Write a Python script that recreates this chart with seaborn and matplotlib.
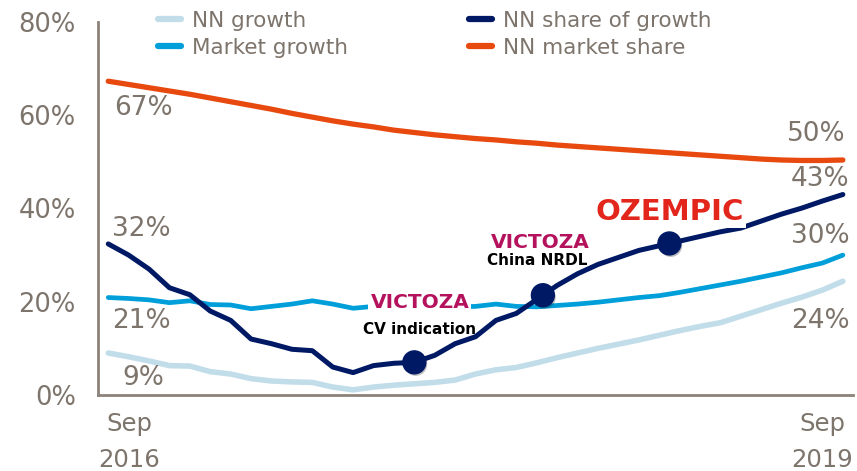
import numpy as np
import pandas as pd
import matplotlib
matplotlib.use("Agg")
import matplotlib.pyplot as plt
import matplotlib.patheffects as pe
from matplotlib.lines import Line2D
import seaborn as sns

# ---------------- data ----------------
months = list(range(37))  # Sep 2016 .. Sep 2019
nn_growth = [9.0, 8.2, 7.3, 6.3, 6.2, 5.0, 4.5, 3.5, 3.0, 2.8, 2.7, 1.7, 1.1, 1.7, 2.1, 2.4,
             2.7, 3.2, 4.5, 5.4, 5.9, 6.9, 8.0, 9.0, 10.0, 10.9, 11.8, 12.8, 13.8, 14.7, 15.5,
             16.9, 18.3, 19.7, 21.0, 22.5, 24.4]
market_growth = [20.9, 20.7, 20.4, 19.8, 20.2, 19.4, 19.3, 18.5, 19.0, 19.5, 20.2, 19.5, 18.6,
                 19.0, 19.2, 19.0, 19.1, 18.9, 19.0, 19.5, 19.0, 18.9, 19.2, 19.5, 19.9, 20.4,
                 20.9, 21.3, 22.0, 22.8, 23.6, 24.4, 25.3, 26.2, 27.3, 28.3, 30.0]
nn_share_of_growth = [32.4, 30.0, 27.0, 23.0, 21.5, 18.0, 16.0, 12.0, 11.0, 9.8, 9.5, 6.0, 4.8,
                      6.3, 6.8, 7.0, 8.5, 11.0, 12.5, 16.0, 17.5, 20.5, 23.5, 26.0, 28.0, 29.5,
                      31.0, 32.0, 33.0, 34.0, 35.0, 35.8, 37.3, 38.8, 40.1, 41.6, 43.0]
nn_market_share = [67.3, 66.6, 65.9, 65.2, 64.5, 63.7, 62.9, 62.1, 61.3, 60.4, 59.6, 58.8, 58.1,
                   57.5, 56.8, 56.3, 55.8, 55.4, 55.0, 54.7, 54.3, 54.0, 53.6, 53.3, 53.0, 52.7,
                   52.4, 52.1, 51.8, 51.5, 51.2, 50.9, 50.6, 50.4, 50.3, 50.3, 50.4]

series_names = ["NN growth", "Market growth", "NN share of growth", "NN market share"]
x_labels = ["Sep\n2016", "Sep\n2019"]
y_ticks = [0, 20, 40, 60, 80]
event_months = [15, 21.3, 27.5]
event_brands = ["VICTOZA", "VICTOZA", "OZEMPIC"]
event_notes = ["CV indication", "China NRDL", ""]

# ---------------- style ----------------
colors = {"NN growth": "#C2DDEA", "Market growth": "#009FDA",
          "NN share of growth": "#001965", "NN market share": "#E8490F"}
widths = {"NN growth": 4.0, "Market growth": 3.4, "NN share of growth": 3.6, "NN market share": 3.8}
grey = "#7D746C"

sns.set_style("white")
plt.rcParams["font.family"] = ["DejaVu Sans"]

df = pd.DataFrame({
    "month": months * 4,
    "value": nn_growth + market_growth + nn_share_of_growth + nn_market_share,
    "series": sum([[s] * len(months) for s in series_names], []),
})
data = {"NN growth": nn_growth, "Market growth": market_growth,
        "NN share of growth": nn_share_of_growth, "NN market share": nn_market_share}

fig = plt.figure(figsize=(8.57, 4.71), dpi=100)
ax = fig.add_axes([0.1144, 0.1614, 0.881, 0.7919])

for i, s in enumerate(series_names):
    sns.lineplot(data=df[df["series"] == s], x="month", y="value", color=colors[s],
                 linewidth=widths[s], ax=ax, legend=False, zorder=2 + i,
                 solid_capstyle="round", solid_joinstyle="round")

ax.set_xlim(-0.5, 36.5)
ax.set_ylim(0, 80)
ax.set_yticks(y_ticks)
ax.set_yticklabels([f"{t}%" for t in y_ticks], fontsize=18.5, color=grey)
ax.tick_params(axis="y", length=0, pad=16)
ax.set_xticks([])
ax.set_xlabel("")
ax.set_ylabel("")
for side in ["top", "right"]:
    ax.spines[side].set_visible(False)
for side in ["left", "bottom"]:
    ax.spines[side].set_color("#8C8279")
    ax.spines[side].set_linewidth(2)

# x labels (ends of axis)
ax.text(0.0, -0.045, x_labels[0], transform=ax.transAxes, ha="left", va="top",
        fontsize=17.5, color=grey, linespacing=1.66, multialignment="center")
ax.text(1.0, -0.045, x_labels[1], transform=ax.transAxes, ha="right", va="top",
        fontsize=17.5, color=grey, linespacing=1.66, multialignment="center")

# start / end value labels (offsets in points)
start_off = {"NN market share": (4, -19), "NN share of growth": (3, 11),
             "Market growth": (3, -17), "NN growth": (10, -18)}
end_off = {"NN market share": (2, 19), "NN share of growth": (5, 11),
           "Market growth": (5, 14), "NN growth": (5, -29)}
for s in series_names:
    v0 = data[s][0]
    v1 = data[s][-1]
    ax.annotate(f"{v0:.0f}%", xy=(months[0], v0), xytext=start_off[s], textcoords="offset points",
                ha="left", va="center", fontsize=19, color=grey, zorder=10)
    ax.annotate(f"{v1:.0f}%", xy=(months[-1], v1), xytext=end_off[s], textcoords="offset points",
                ha="right", va="center", fontsize=19, color=grey, zorder=10)

# event markers
ev_y = np.interp(event_months, months, nn_share_of_growth)
ax.plot(event_months, ev_y, linestyle="none", marker="o", markersize=16.5,
        color="#001965", zorder=8,
        path_effects=[pe.SimplePatchShadow(offset=(1, -1.5), alpha=0.25, shadow_rgbFace="black"),
                      pe.Normal()])

brand_style = {"VICTOZA": dict(color="#B5125E", fontsize=14.5, fontweight="bold"),
               "OZEMPIC": dict(color="#E3261B", fontsize=21, fontweight="heavy")}
brand_off = [(4, -43), (-2, -38), (0, -23)]
note_off = [(4, -24), (-4, -25), (0, 0)]
for xm, ym, b, n, bo, no in zip(event_months, ev_y, event_brands, event_notes, brand_off, note_off):
    st = brand_style[b]
    ax.annotate(b, xy=(xm, ym), xytext=(bo[0], -bo[1]), textcoords="offset points",
                ha="center", va="center", zorder=9,
                bbox=dict(facecolor="white", edgecolor="none", pad=1.5), **st)
    if n:
        ax.annotate(n, xy=(xm, ym), xytext=(no[0], -no[1]), textcoords="offset points",
                    ha="center", va="center", fontsize=11, fontweight="bold", color="black",
                    zorder=9)

# legend
handles = [Line2D([0], [0], color=colors[s], linewidth=4.5) for s in series_names]
fig.legend(handles, series_names, loc="upper left", bbox_to_anchor=(0.184, 0.977),
           ncol=2, frameon=False, fontsize=15.5, labelcolor=grey, handlelength=1.1,
           handletextpad=0.5, labelspacing=0.31, columnspacing=5.6,
           borderpad=0, borderaxespad=0)

fig.savefig("out.png", dpi=100)
